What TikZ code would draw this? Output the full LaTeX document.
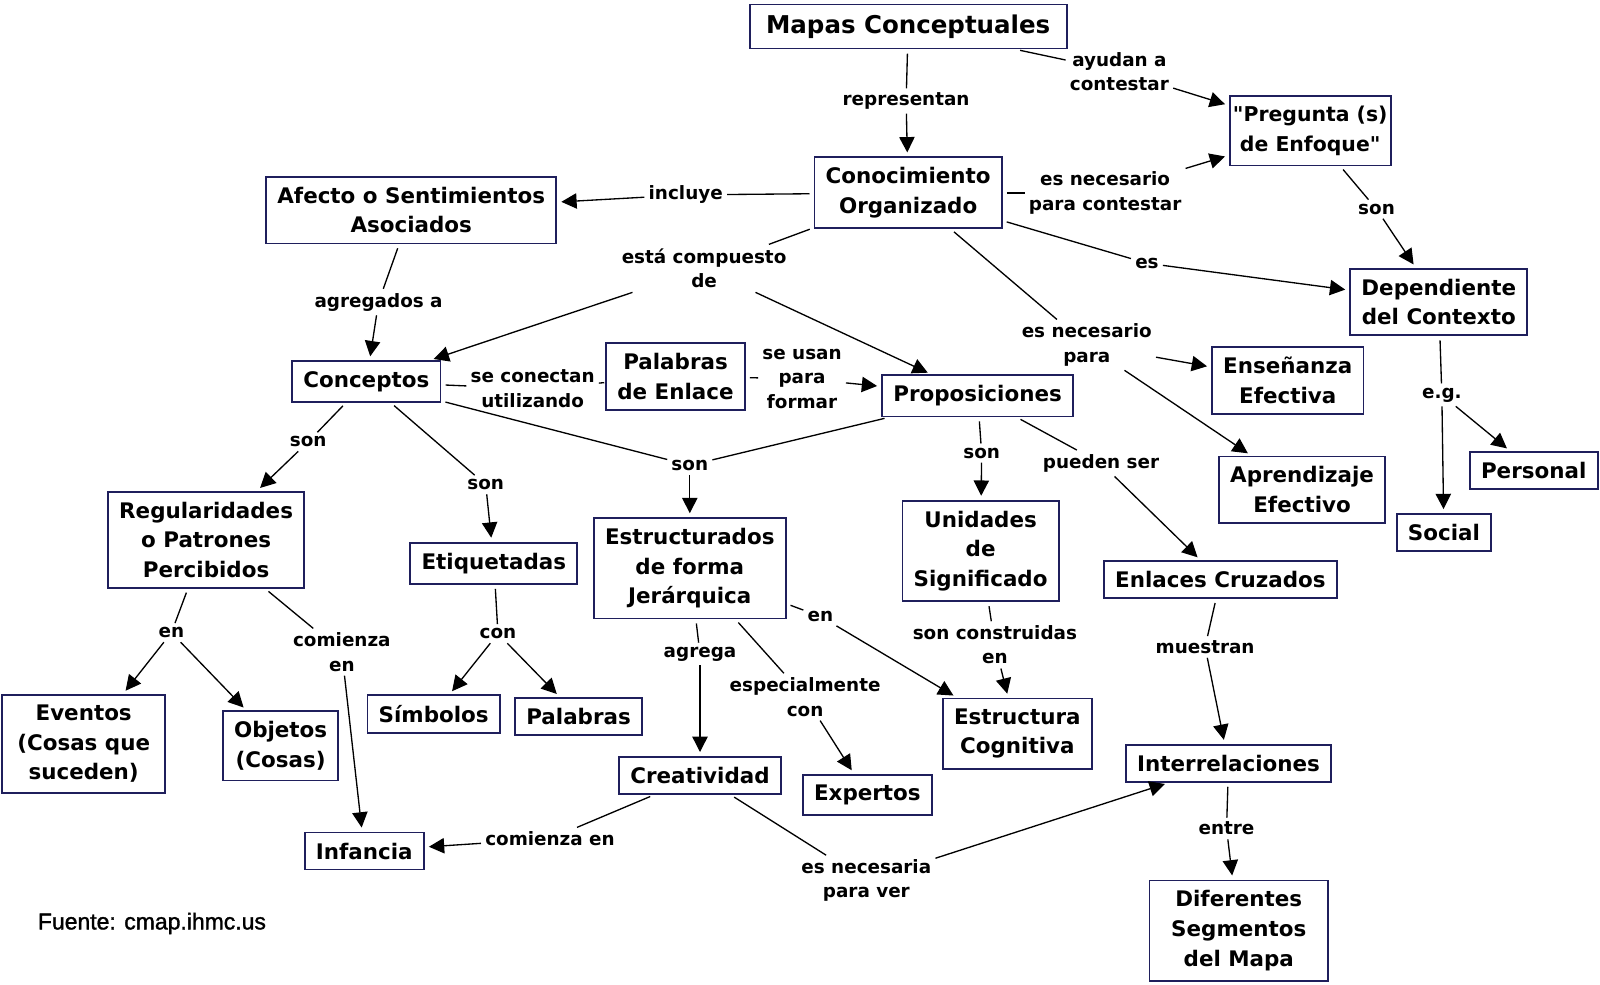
\documentclass[tikz,border=0pt]{standalone}
\usepackage{fontspec}
\setmainfont{DejaVu Sans}
\newfontfamily\sourcefont[FakeBold=1.5]{Liberation Sans}
\usepackage{tikz}
\usetikzlibrary{arrows.meta}
\definecolor{boxnavy}{HTML}{1F1F5C}

\begin{document}
\begin{tikzpicture}[x=1pt,y=-1pt,>={Triangle[length=15pt,width=15pt]},
	concept/.style={draw=boxnavy,line width=1.8pt,fill=white,inner xsep=11pt,inner ysep=10pt,align=center,font=\fontsize{21}{29}\selectfont\bfseries},
	title/.style={concept,inner xsep=16pt,font=\fontsize{24}{30}\selectfont\bfseries},
	phrase/.style={inner sep=4pt,align=center,font=\fontsize{18}{24}\selectfont\bfseries},
	cline/.style={draw=black,line width=1.3pt,shorten <=4pt},
	carrow/.style={draw=black,line width=1.3pt,->,shorten >=4pt}]
	\useasboundingbox (0,0) rectangle (1568,965);
		\node[title] (c_mapas) at (890,26) {Mapas Conceptuales};
		\node[concept,inner xsep=3pt,font=\fontsize{20}{29}\selectfont\bfseries] (c_pregunta) at (1284,128) {\textquotedbl Pregunta (s)\\de Enfoque\textquotedbl};
		\node[concept] (c_conocimiento) at (890,189) {Conocimiento\\Organizado};
		\node[concept] (c_afecto) at (403,206) {Afecto o Sentimientos\\Asociados};
		\node[concept] (c_dependiente) at (1410,296) {Dependiente\\del Contexto};
		\node[concept] (c_conceptos) at (359,374) {Conceptos};
		\node[concept] (c_palabrasenlace) at (662,369) {Palabras\\de Enlace};
		\node[concept] (c_proposiciones) at (958,388) {Proposiciones};
		\node[concept] (c_ensenanza) at (1262,373) {Enseñanza\\Efectiva};
		\node[concept] (c_aprendizaje) at (1276,480) {Aprendizaje\\Efectivo};
		\node[concept] (c_personal) at (1503,461) {Personal};
		\node[concept] (c_social) at (1415,522) {Social};
		\node[concept] (c_regularidades) at (202,529) {Regularidades\\o Patrones\\Percibidos};
		\node[concept] (c_etiquetadas) at (484,552) {Etiquetadas};
		\node[concept] (c_estructurados) at (676,557) {Estructurados\\de forma\\Jerárquica};
		\node[concept] (c_unidades) at (961,540) {Unidades\\de\\Significado};
		\node[concept] (c_enlaces) at (1196,568) {Enlaces Cruzados};
		\node[concept,minimum width=160pt] (c_eventos) at (82,729) {Eventos\\(Cosas que\\suceden)};
		\node[concept] (c_objetos) at (275,731) {Objetos\\(Cosas)};
		\node[concept] (c_simbolos) at (425,700) {Símbolos};
		\node[concept] (c_palabras) at (567,702) {Palabras};
		\node[concept] (c_estructura) at (997,719) {Estructura\\Cognitiva};
		\node[concept] (c_expertos) at (850,779) {Expertos};
		\node[concept] (c_creatividad) at (686,760) {Creatividad};
		\node[concept] (c_infancia) at (357,834) {Infancia};
		\node[concept] (c_interrelaciones) at (1204,748) {Interrelaciones};
		\node[concept,minimum width=175pt] (c_diferentes) at (1214,912) {Diferentes\\Segmentos\\del Mapa};

		\node[phrase] (l_representan) at (888,99) {representan};
		\node[phrase] (l_ayudan) at (1097,70) {ayudan a\\contestar};
		\node[phrase] (l_incluye) at (672,191) {incluye};
		\node[phrase] (l_paracontestar) at (1083,189) {es necesario\\para contestar};
		\node[phrase] (l_sonpregunta) at (1349,205) {son};
		\node[phrase] (l_compuesto) at (690,263) {está compuesto\\de};
		\node[phrase] (l_es) at (1124,258) {es};
		\node[phrase] (l_necesario) at (1065,338) {es necesario\\para};
		\node[phrase] (l_agregados) at (371,296) {agregados a};
		\node[phrase] (l_conectan) at (522,381) {se conectan\\utilizando};
		\node[phrase] (l_usan) at (786,371) {se usan\\para\\formar};
		\node[phrase] (l_sonregul) at (302,433) {son};
		\node[phrase] (l_sonetiq) at (476,475) {son};
		\node[phrase] (l_sonestruc) at (676,456) {son};
		\node[phrase] (l_sonunid) at (962,444) {son};
		\node[phrase] (l_pueden) at (1079,454) {pueden ser};
		\node[phrase] (l_eg) at (1413,387) {e.g.};
		\node[phrase] (l_enregul) at (168,620) {en};
		\node[phrase] (l_comienza) at (335,639) {comienza\\en};
		\node[phrase] (l_con) at (488,621) {con};
		\node[phrase] (l_enestruc) at (804,604) {en};
		\node[phrase] (l_agrega) at (686,641) {agrega};
		\node[phrase] (l_especial) at (789,683) {especialmente\\con};
		\node[phrase] (l_construidas) at (975,632) {son construidas\\en};
		\node[phrase] (l_muestran) at (1181,634) {muestran};
		\node[phrase] (l_comienzaen) at (539,822) {comienza en};
		\node[phrase] (l_paraver) at (849,863) {es necesaria\\para ver};
		\node[phrase] (l_entre) at (1202,812) {entre};

		\node[anchor=west,inner sep=0pt,font=\fontsize{22.5}{26}\selectfont\sourcefont] (fuente) at (37,905) {Fuente: cmap.ihmc.us};

		\path (c_mapas) edge[cline] (l_representan)
			(l_representan) edge[carrow] (c_conocimiento)
			(c_mapas) edge[cline] (l_ayudan)
			(l_ayudan) edge[carrow] (c_pregunta)
			(c_conocimiento) edge[cline] (l_incluye)
			(l_incluye) edge[carrow] (c_afecto)
			(c_conocimiento) edge[cline] (l_paracontestar)
			(l_paracontestar) edge[carrow] (c_pregunta)
			(c_pregunta) edge[cline] (l_sonpregunta)
			(l_sonpregunta) edge[carrow] (c_dependiente)
			(c_conocimiento) edge[cline] (l_compuesto)
			(l_compuesto) edge[carrow] (c_conceptos)
				edge[carrow] (c_proposiciones)
			(c_conocimiento) edge[cline] (l_es)
			(l_es) edge[carrow] (c_dependiente)
			(c_conocimiento) edge[cline] (l_necesario)
			(l_necesario) edge[carrow] (c_ensenanza)
				edge[carrow] (c_aprendizaje)
			(c_afecto) edge[cline] (l_agregados)
			(l_agregados) edge[carrow] (c_conceptos)
			(c_conceptos) edge[cline] (l_conectan)
			(l_conectan) edge[cline,shorten <=0pt,shorten >=1pt] (c_palabrasenlace)
			(c_palabrasenlace) edge[cline] (l_usan)
			(l_usan) edge[carrow] (c_proposiciones)
			(c_conceptos) edge[cline] (l_sonregul)
			(l_sonregul) edge[carrow] (c_regularidades)
			(c_conceptos) edge[cline] (l_sonetiq)
			(l_sonetiq) edge[carrow] (c_etiquetadas)
			(c_conceptos) edge[cline] (l_sonestruc)
			(c_proposiciones) edge[cline] (l_sonestruc)
			(l_sonestruc) edge[carrow] (c_estructurados)
			(c_proposiciones) edge[cline] (l_sonunid)
			(l_sonunid) edge[carrow] (c_unidades)
			(c_proposiciones) edge[cline] (l_pueden)
			(l_pueden) edge[carrow] (c_enlaces)
			(c_dependiente) edge[cline] (l_eg)
			(l_eg) edge[carrow] (c_social)
				edge[carrow] (c_personal)
			(c_regularidades) edge[cline] (l_enregul)
			(l_enregul) edge[carrow] (c_eventos)
				edge[carrow] (c_objetos)
			(c_regularidades) edge[cline] (l_comienza)
			(l_comienza) edge[carrow] (c_infancia)
			(c_etiquetadas) edge[cline] (l_con)
			(l_con) edge[carrow] (c_simbolos)
				edge[carrow] (c_palabras)
			(c_estructurados) edge[cline] (l_enestruc)
			(l_enestruc) edge[carrow] (c_estructura)
			(c_estructurados) edge[cline] (l_agrega)
			(l_agrega) edge[carrow] (c_creatividad)
			(c_estructurados) edge[cline] (l_especial)
			(l_especial) edge[carrow] (c_expertos)
			(c_unidades) edge[cline] (l_construidas)
			(l_construidas) edge[carrow] (c_estructura)
			(c_enlaces) edge[cline] (l_muestran)
			(l_muestran) edge[carrow] (c_interrelaciones)
			(c_creatividad) edge[cline] (l_comienzaen)
			(l_comienzaen) edge[carrow] (c_infancia)
			(c_creatividad) edge[cline] (l_paraver)
			(l_paraver) edge[carrow] (c_interrelaciones)
			(c_interrelaciones) edge[cline] (l_entre)
			(l_entre) edge[carrow] (c_diferentes);
	\end{tikzpicture}
\end{document}
